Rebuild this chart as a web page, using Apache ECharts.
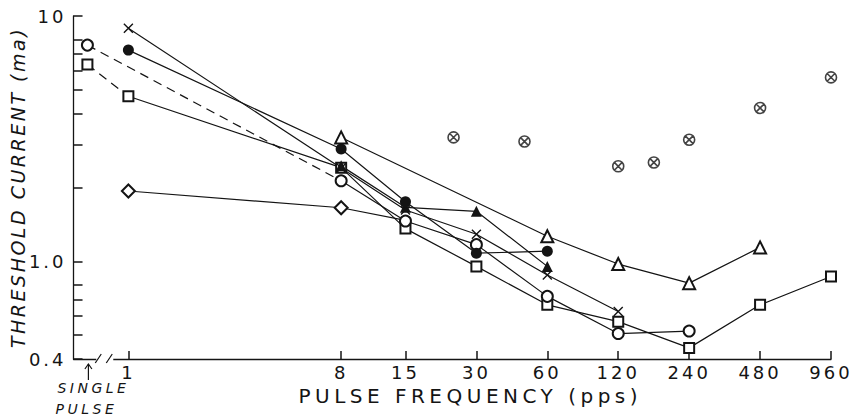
<!DOCTYPE html>
<html><head><meta charset="utf-8">
<script src="https://cdn.jsdelivr.net/npm/echarts@6/dist/echarts.min.js"></script>
<style>
html,body{margin:0;padding:0;background:#fff;}
#c{width:859px;height:420px;}
#c text[style*="18px"]{letter-spacing:3px;}
#c text[style*="20px"]{letter-spacing:4.5px;}
#c text[style*="italic"]{letter-spacing:2.5px;}
#c text[style*="14px"]{letter-spacing:3.5px;}
</style>
</head><body><div id="c"></div>
<script>
// ---- data ----
const freqs = [1, 8, 15, 30, 60, 120, 240, 480, 960];
const singlePulseFreq = 0.67;
const crossVals          = [8.91, 2.40, 1.62, 1.29, 0.88, 0.625, null, null, null];
const filledCircleVals   = [7.26, 2.87, 1.75, 1.08, 1.10, null, null, null, null];
const openSquareVals     = [4.71, 2.41, 1.36, 0.954, 0.665, 0.568, 0.444, 0.665, 0.868];
const openCircleVals     = [null, 2.13, 1.46, 1.17, 0.72, 0.508, 0.52, null, null];
const diamondVals        = [1.935, 1.654, 1.47, null, null, null, null, null, null];
const openTriangleVals   = [null, 3.20, null, null, 1.266, 0.975, 0.815, 1.14, null];
const filledTriangleVals = [null, 2.45, 1.66, 1.60, 0.954, null, null, null, null];
const singlePulseCircle = 7.61;
const singlePulseSquare = 6.34;
const crossedCircleFreqs = [24, 48, 120, 170, 240, 480, 960];
const crossedCircleVals  = [3.20, 3.08, 2.44, 2.53, 3.13, 4.22, 5.62];
const xTickValues  = [1, 8, 15, 30, 60, 120, 240, 480, 960];
const yTickValues  = [0.4, 0.5, 0.6, 0.7, 0.8, 1, 2, 3, 4, 5, 6, 7, 8, 10];
const yLabelValues = [0.4, 1, 10];
const yLabelTexts  = ['0.4', '1.0', '10'];
const xMin = 0.585, xMax = 960, yMin = 0.4, yMax = 10;
const breakFreq = 0.79;

// ---- styles ----
const INK = '#141414';
const FONT = 'DejaVu Sans';
const crossPath = 'path://M0,0L10,10M10,0L0,10';
const otimesPath = 'path://M10,5A5,5,0,1,1,0,5A5,5,0,1,1,10,5ZM1.7,1.7L8.3,8.3M8.3,1.7L1.7,8.3';

function pairs(vals) {
  const out = [];
  vals.forEach((v, i) => { if (v != null) out.push([freqs[i], v]); });
  return out;
}
function lineSeries(data, symbol, size, filled) {
  return {
    type: 'line', data: data, symbol: symbol, symbolSize: size,
    lineStyle: { color: INK, width: 1.2 },
    itemStyle: filled ? { color: INK, borderColor: INK, borderWidth: filled === 'stroke' ? 1.4 : 0 }
                      : { color: INK, borderWidth: 1.3 },
    emphasis: { disabled: true }, z: 3
  };
}

const diamondData = pairs(diamondVals).map((p, i, arr) => i === arr.length - 1 ? { value: p, symbol: 'none' } : p);

const chart = echarts.init(document.getElementById('c'), null, { renderer: 'svg' });
chart.setOption({
  animation: false,
  backgroundColor: '#fff',
  grid: { left: 73, right: 28, top: 16, bottom: 61 },
  xAxis: {
    type: 'log', logBase: 2, min: xMin, max: xMax,
    name: 'PULSE FREQUENCY (pps)', nameLocation: 'middle', nameGap: 26,
    nameTextStyle: { fontFamily: FONT, fontSize: 20, color: INK, padding: [0, 0, 0, 36] },
    axisLine: { show: true, lineStyle: { color: INK, width: 1.3 } },
    axisTick: { show: true, inside: true, length: 8, lineStyle: { color: INK, width: 1.5 }, customValues: xTickValues },
    axisLabel: { customValues: xTickValues, fontFamily: FONT, fontSize: 18, color: INK, margin: 4,
      formatter: v => String(Math.round(v)) },
    splitLine: { show: false }, minorTick: { show: false }
  },
  yAxis: {
    type: 'log', logBase: 10, min: yMin, max: yMax,
    name: 'THRESHOLD CURRENT (ma)', nameLocation: 'middle', nameGap: 32,
    nameTextStyle: { fontFamily: FONT, fontSize: 19, fontStyle: 'italic', color: INK },
    axisLine: { show: true, lineStyle: { color: INK, width: 1.3 } },
    axisTick: { show: true, inside: true, length: 9, lineStyle: { color: INK, width: 1.5 }, customValues: yTickValues },
    axisLabel: { customValues: yLabelValues, fontFamily: FONT, fontSize: 18, color: INK, margin: 7,
      formatter: v => { let best = 0; yLabelValues.forEach((t, i) => { if (Math.abs(Math.log(t / v)) < Math.abs(Math.log(yLabelValues[best] / v))) best = i; }); return yLabelTexts[best]; } },
    splitLine: { show: false }, minorTick: { show: false }
  },
  series: [
    { type: 'line', data: [{ value: [singlePulseFreq, singlePulseCircle], symbol: 'emptyCircle' }, { value: [8, openCircleVals[1]], symbol: 'none' }],
      symbolSize: 11, lineStyle: { color: INK, width: 1.2, type: [9, 6] }, itemStyle: { color: INK, borderWidth: 1.3 }, z: 2 },
    { type: 'line', data: [{ value: [singlePulseFreq, singlePulseSquare], symbol: 'emptyRect' }, { value: [1, openSquareVals[0]], symbol: 'none' }],
      symbolSize: 10, lineStyle: { color: INK, width: 1.2, type: [9, 6] }, itemStyle: { color: INK, borderWidth: 1.3 }, z: 2 },
    lineSeries(diamondData, 'emptyDiamond', 13, false),
    lineSeries(pairs(openTriangleVals), 'emptyTriangle', 12, false),
    lineSeries(pairs(openSquareVals), 'emptyRect', 10, false),
    lineSeries(pairs(openCircleVals), 'emptyCircle', 11, false),
    lineSeries(pairs(filledTriangleVals), 'triangle', 11, true),
    lineSeries(pairs(filledCircleVals), 'circle', 11, true),
    lineSeries(pairs(crossVals), crossPath, 9, 'stroke'),
    { type: 'scatter', data: crossedCircleFreqs.map((f, i) => [f, crossedCircleVals[i]]),
      symbol: otimesPath, symbolSize: 11,
      itemStyle: { color: '#fff', borderColor: INK, borderWidth: 1.6 }, z: 4 }
  ]
});

// decorations: axis break mark and the single-pulse annotation
const px = chart.convertToPixel({ xAxisIndex: 0 }, singlePulseFreq);
const bx = chart.convertToPixel({ xAxisIndex: 0 }, breakFreq);
const ay = chart.convertToPixel({ yAxisIndex: 0 }, yMin);
const ln = { stroke: INK, lineWidth: 1.2 };
chart.setOption({
  graphic: [
    { type: 'rect', shape: { x: bx - 8, y: ay - 3, width: 17, height: 6 }, style: { fill: '#fff' }, z: 10 },
    { type: 'line', shape: { x1: bx - 9, y1: ay + 4, x2: bx - 3, y2: ay - 5 }, style: ln, z: 11 },
    { type: 'line', shape: { x1: bx + 2, y1: ay + 4, x2: bx + 8, y2: ay - 5 }, style: ln, z: 11 },
    { type: 'line', shape: { x1: px + 1, y1: ay + 21, x2: px + 1, y2: ay + 5 }, style: ln, z: 11 },
    { type: 'polyline', shape: { points: [[px - 2.5, ay + 10], [px + 1, ay + 5], [px + 4.5, ay + 10]] }, style: Object.assign({ fill: null }, ln), z: 11 },
    { type: 'text', x: px + 6, y: ay + 29, style: { text: 'SINGLE', font: 'italic 14px "DejaVu Sans"', fill: INK, align: 'center', verticalAlign: 'middle' }, z: 11 },
    { type: 'text', x: px - 1, y: ay + 50, style: { text: 'PULSE', font: 'italic 14px "DejaVu Sans"', fill: INK, align: 'center', verticalAlign: 'middle' }, z: 11 }
  ]
});
</script></body></html>
